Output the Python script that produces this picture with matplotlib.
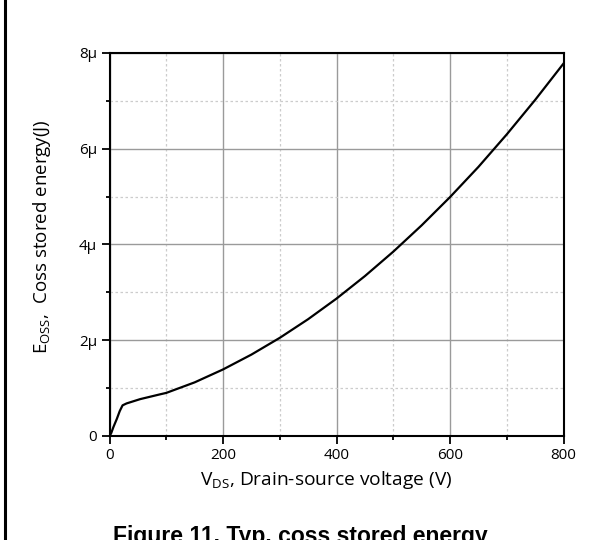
import numpy as np
import matplotlib.pyplot as plt
from matplotlib.lines import Line2D
from matplotlib.ticker import MultipleLocator, FixedLocator, FixedFormatter

plt.rcParams['font.family'] = ['Open Sans', 'DejaVu Sans']
plt.rcParams['mathtext.fontset'] = 'custom'
plt.rcParams['mathtext.rm'] = 'Open Sans'
plt.rcParams['mathtext.default'] = 'regular'

# Drain-source voltage (V) and stored energy (uJ)
vds = [0, 3, 7, 13, 18, 23, 30, 54, 89, 100, 150, 200, 250, 300, 350, 400,
       450, 500, 550, 600, 650, 700, 750, 800]
eoss_uj = [0, 0.06, 0.19, 0.36, 0.52, 0.64, 0.68, 0.77, 0.87, 0.90, 1.12, 1.39,
           1.70, 2.05, 2.44, 2.87, 3.34, 3.85, 4.40, 4.99, 5.62, 6.30, 7.02, 7.78]

y_ticks = [0, 2, 4, 6, 8]
y_tick_labels = ['0', '2μ', '4μ', '6μ', '8μ']
x_ticks = [0, 200, 400, 600, 800]

fig = plt.figure(figsize=(6.04, 5.4), dpi=100)
ax = fig.add_axes([0.1813, 0.1926, 0.7517, 0.7093])

ax.plot(vds, eoss_uj, color='black', lw=1.6, zorder=3)

ax.set_xlim(0, 800)
ax.set_ylim(0, 8)
ax.xaxis.set_major_locator(FixedLocator(x_ticks))
ax.xaxis.set_minor_locator(MultipleLocator(100))
ax.yaxis.set_major_locator(FixedLocator(y_ticks))
ax.yaxis.set_major_formatter(FixedFormatter(y_tick_labels))
ax.yaxis.set_minor_locator(MultipleLocator(1))

ax.grid(which='major', color='#9a9a9a', lw=1.0, ls='-')
ax.grid(which='minor', color='#cccccc', lw=0.9, ls=(0, (2, 2)))
ax.set_axisbelow(True)

ax.tick_params(which='major', direction='out', length=6, width=1.3,
               labelsize=11, pad=3, top=False, right=False)
ax.tick_params(which='minor', direction='out', length=3, width=1.3,
               top=False, right=False)
for s in ax.spines.values():
    s.set_linewidth(1.5)

ax.set_xlabel('V$_{DS}$, Drain-source voltage (V)', fontsize=13.8)
ax.xaxis.set_label_coords(0.477, -0.085)
ax.set_ylabel('E$_{OSS}$,  Coss stored energy(J)', fontsize=13.5)
ax.yaxis.set_label_coords(-0.125, 0.52)

# the caption is clipped by the bottom edge, as in the original page crop
fig.text(0.497, 1 - 525 / 540, 'Figure 11. Typ. coss stored energy',
         ha='center', va='top', fontsize=16.5, fontweight='bold',
         family='Liberation Sans')

fig.add_artist(Line2D([0.0085, 0.0085], [0, 1], color='black', lw=2.2))

fig.savefig('out.png', dpi=100)
